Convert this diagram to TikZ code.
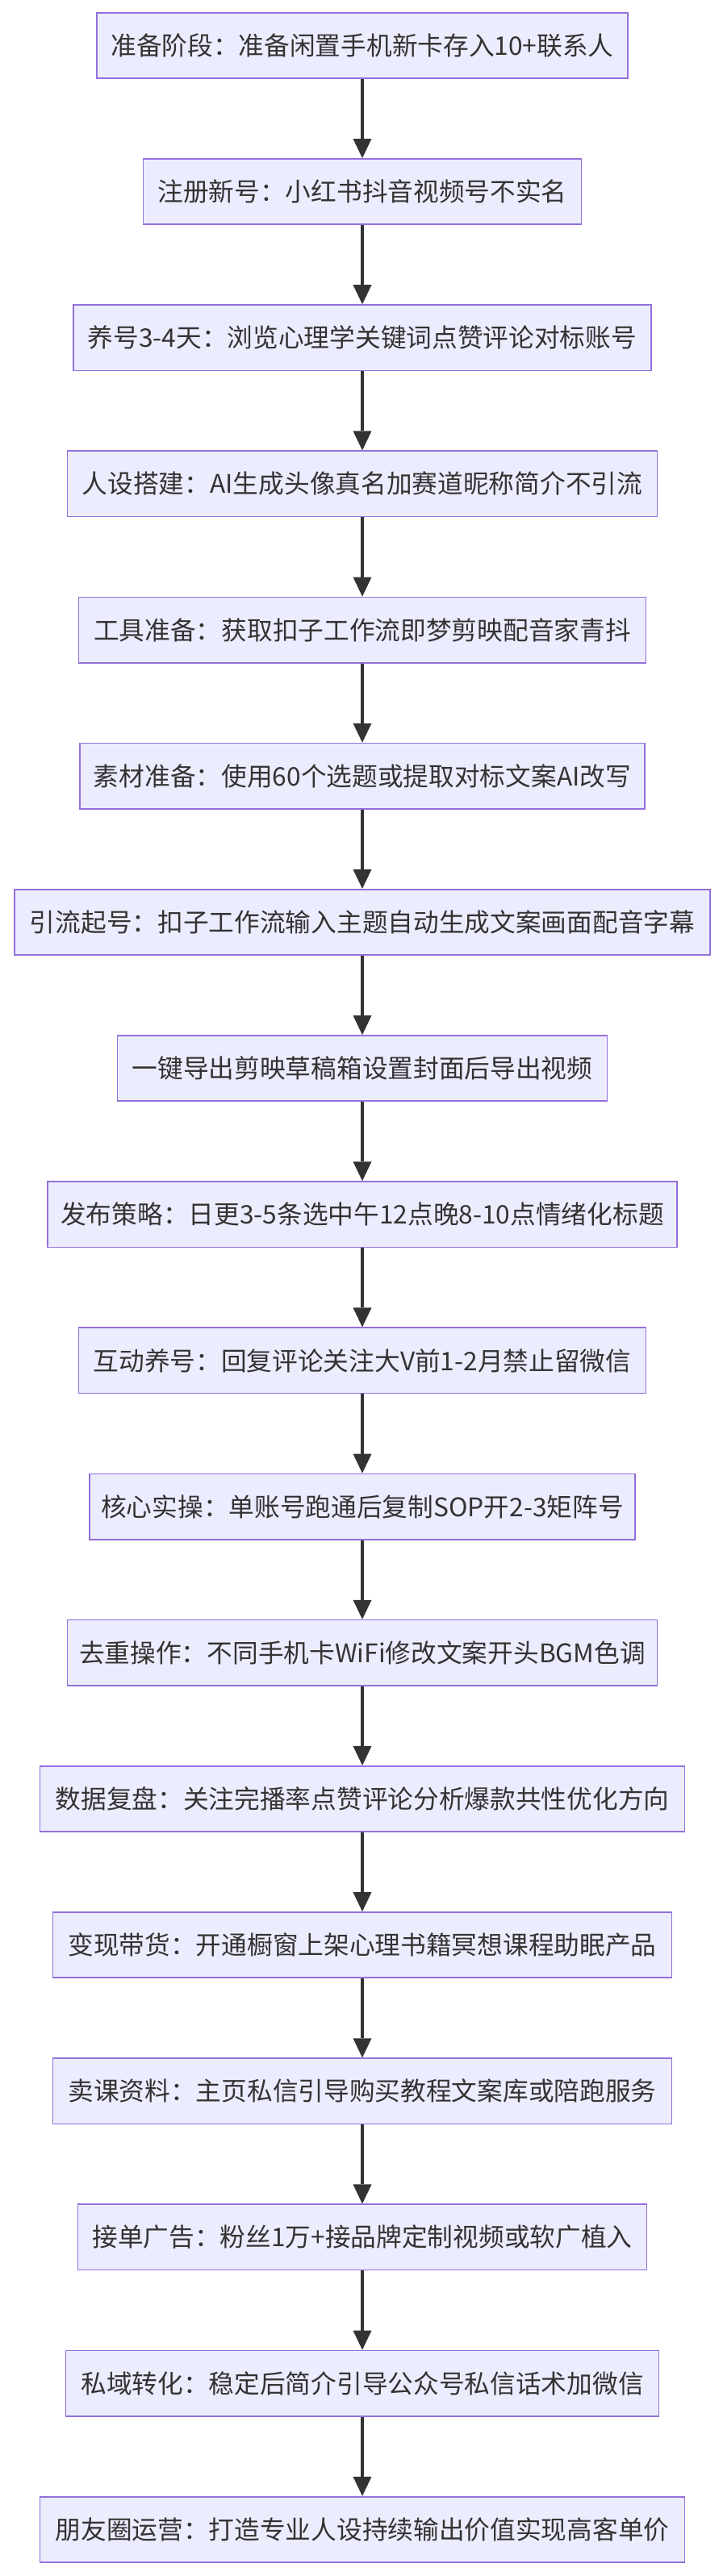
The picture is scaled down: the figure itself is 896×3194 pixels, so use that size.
\documentclass[tikz,border=0pt]{standalone}
\usepackage{fontspec}
\setmainfont{Noto Sans CJK SC}
\usetikzlibrary{arrows.meta}
\definecolor{boxfill}{HTML}{ECECFF}
\definecolor{boxline}{HTML}{9370DB}
\definecolor{ink}{HTML}{333333}
\tikzset{
  stepbox/.style={draw=boxline, fill=boxfill, line width=1.7pt, minimum height=81.3pt,
    inner sep=0pt, text=ink, font=\fontsize{31.7}{38}\selectfont},
  flow/.style={draw=ink, line width=4.2pt,
    -{Triangle[length=24pt,width=23pt,line width=0pt]}}
}
\begin{document}
\begin{tikzpicture}[x=1pt,y=-1pt]
\fill[white] (0,0) rectangle (896,3194);
\useasboundingbox (0,0) rectangle (896,3194);
\node[stepbox, minimum width=658pt] (n1) at (449,56.4) {准备阶段：准备闲置手机新卡存入10+联系人};
\node[stepbox, minimum width=543pt] (n2) at (449,237.57) {注册新号：小红书抖音视频号不实名};
\node[stepbox, minimum width=716pt] (n3) at (449,418.74) {养号3-4天：浏览心理学关键词点赞评论对标账号};
\node[stepbox, minimum width=731pt] (n4) at (449,599.91) {人设搭建：AI生成头像真名加赛道昵称简介不引流};
\node[stepbox, minimum width=703pt] (n5) at (449,781.08) {工具准备：获取扣子工作流即梦剪映配音家青抖};
\node[stepbox, minimum width=700pt] (n6) at (449,962.25) {素材准备：使用60个选题或提取对标文案AI改写};
\node[stepbox, minimum width=862pt] (n7) at (449,1143.42) {引流起号：扣子工作流输入主题自动生成文案画面配音字幕};
\node[stepbox, minimum width=607pt] (n8) at (449,1324.59) {一键导出剪映草稿箱设置封面后导出视频};
\node[stepbox, minimum width=780pt] (n9) at (449,1505.76) {发布策略：日更3-5条选中午12点晚8-10点情绪化标题};
\node[stepbox, minimum width=703pt] (n10) at (449,1686.93) {互动养号：回复评论关注大V前1-2月禁止留微信};
\node[stepbox, minimum width=676pt] (n11) at (449,1868.1) {核心实操：单账号跑通后复制SOP开2-3矩阵号};
\node[stepbox, minimum width=731pt] (n12) at (449,2049.27) {去重操作：不同手机卡WiFi修改文案开头BGM色调};
\node[stepbox, minimum width=799pt] (n13) at (449,2230.44) {数据复盘：关注完播率点赞评论分析爆款共性优化方向};
\node[stepbox, minimum width=767pt] (n14) at (449,2411.61) {变现带货：开通橱窗上架心理书籍冥想课程助眠产品};
\node[stepbox, minimum width=767pt] (n15) at (449,2592.78) {卖课资料：主页私信引导购买教程文案库或陪跑服务};
\node[stepbox, minimum width=705pt] (n16) at (449,2773.95) {接单广告：粉丝1万+接品牌定制视频或软广植入};
\node[stepbox, minimum width=735pt] (n17) at (449,2955.12) {私域转化：稳定后简介引导公众号私信话术加微信};
\node[stepbox, minimum width=799pt] (n18) at (449,3136.29) {朋友圈运营：打造专业人设持续输出价值实现高客单价};
\foreach \a/\b in {n1/n2,n2/n3,n3/n4,n4/n5,n5/n6,n6/n7,n7/n8,n8/n9,n9/n10,n10/n11,n11/n12,n12/n13,n13/n14,n14/n15,n15/n16,n16/n17,n17/n18}
  \draw[flow] (\a.south) -- (\b.north);
\end{tikzpicture}
\end{document}
